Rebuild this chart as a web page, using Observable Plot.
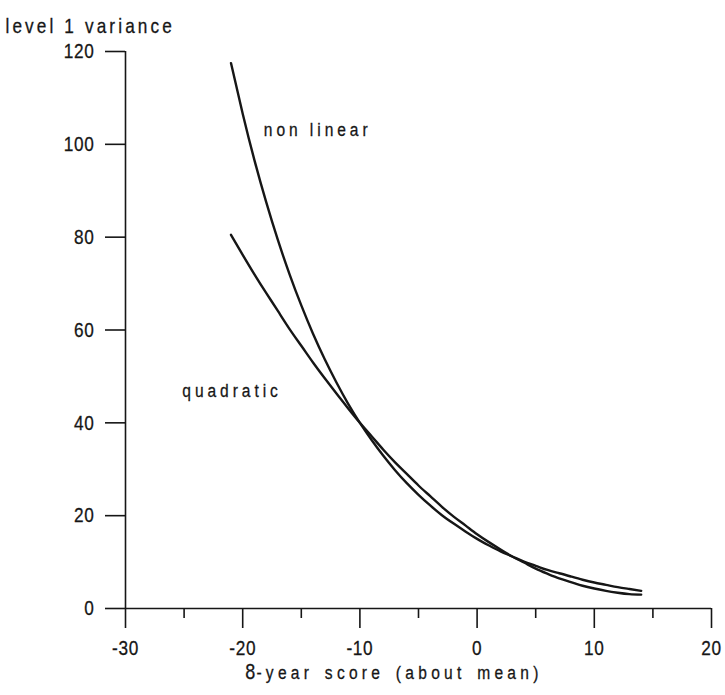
<!DOCTYPE html>
<html>
<head>
<meta charset="utf-8">
<script src="https://cdn.jsdelivr.net/npm/d3@7"></script>
<script src="https://cdn.jsdelivr.net/npm/@observablehq/plot@0.6"></script>
<style>
  html, body { margin: 0; padding: 0; background: #fff; }
  #chart svg { display: block; }
  #chart svg g[aria-label$="tick label"] text { font-size: 21px; letter-spacing: 0.8px; }
  #chart svg text { stroke: #161616; stroke-width: 0.3px; }
</style>
</head>
<body>
<div id="chart"></div>
<script>
// Scores (about mean) at which the curves were read
const scores = [-21,-20,-19,-18,-17,-16,-15,-14,-13,-12,-11,-10,-9,-8,-7,-6,-5,-4,-3,-2,-1,0,1,2,3,4,5,6,7,8,9,10,11,12,13,14];
// Level 1 variance, non linear model
const nonLinear = [117.5,106.6,96.6,87.6,79.4,72.0,65.3,59.2,53.7,48.7,44.1,40.0,36.3,32.9,29.8,27.0,24.5,22.2,20.1,18.3,16.6,15.0,13.6,12.3,11.2,10.1,9.2,8.3,7.6,6.9,6.2,5.6,5.1,4.6,4.2,3.8];
// Level 1 variance, quadratic model
const quadratic = [80.5,76.2,72.0,68.0,64.1,60.2,56.6,53.0,49.6,46.3,43.1,40.0,37.1,34.2,31.5,29.0,26.5,24.2,21.9,19.8,17.9,16.0,14.3,12.7,11.2,9.9,8.6,7.5,6.5,5.7,4.9,4.3,3.8,3.4,3.1,3.0];

const xMajorTicks = [-30,-20,-10,0,10,20];
const xMinorTicks = [-25,-15,-5,5,15];
const yTicks = [0,20,40,60,80,100,120];

const curveLabels = [
  {x: -18.2, y: 103.2, text: "non linear"},
  {x: -25.15, y: 46.8, text: "quadratic"}
];
const xTitle = "8-year score (about mean)";
const yTitle = "level 1 variance";

const nlData = scores.map((s, i) => ({x: s, y: nonLinear[i]}));
const qData = scores.map((s, i) => ({x: s, y: quadratic[i]}));

const ink = "#161616";
const font = "'Liberation Sans', Arial, sans-serif";
const fmt = d => String(d); // plain hyphen minus, as in the original

const chart = Plot.plot({
  width: 725,
  height: 695,
  marginLeft: 125,
  marginRight: 14,
  marginTop: 51,
  marginBottom: 87,
  style: {fontFamily: font, fontSize: "16px", color: ink, background: "#fff"},
  x: {domain: [-30, 20]},
  y: {domain: [0, 120]},
  marks: [
    Plot.ruleX([-30], {y1: 0, y2: 120, stroke: ink, strokeWidth: 1.6}),
    Plot.ruleY([0], {x1: -30, x2: 20, stroke: ink, strokeWidth: 1.6}),
    Plot.axisY(yTicks, {tickSize: 20, tickPadding: 11, tickFormat: fmt, label: null, stroke: ink, strokeWidth: 1.6, fill: ink}),
    Plot.axisX(xMajorTicks, {tickSize: 20, tickPadding: 12, tickFormat: fmt, label: null, stroke: ink, strokeWidth: 1.6, fill: ink}),
    Plot.axisX(xMinorTicks, {tickSize: 10, tickFormat: () => "", label: null, stroke: ink, strokeWidth: 1.6}),
    Plot.line(nlData, {x: "x", y: "y", curve: "natural", stroke: ink, strokeWidth: 2.4}),
    Plot.line(qData, {x: "x", y: "y", curve: "natural", stroke: ink, strokeWidth: 2.4}),
    Plot.text(curveLabels, {x: "x", y: "y", text: "text", textAnchor: "start", fontSize: 19, fill: ink, className: "curve-label"}),
    Plot.text([xTitle], {x: [-7.1], frameAnchor: "bottom", dy: 70, fontSize: 19, fill: ink, className: "x-title"}),
    Plot.text([yTitle], {frameAnchor: "top-left", dx: -120, dy: -33, textAnchor: "start", fontSize: 21, fill: ink, className: "y-title"})
  ]
});

const svg = d3.select(chart);
svg.selectAll(".curve-label text").style("letter-spacing", "4.8px");
svg.selectAll(".x-title text").style("letter-spacing", "5.2px").style("word-spacing", "3.7px");
svg.selectAll(".y-title text").style("letter-spacing", "3.8px").style("word-spacing", "0px");
// larger leading "8" in the x title
svg.selectAll(".x-title text").each(function() {
  const t = d3.select(this);
  const s = t.text();
  t.text(null);
  t.append("tspan").attr("font-size", 22).style("letter-spacing", "1.5px").text(s.slice(0, 1));
  t.append("tspan").text(s.slice(1));
});

// narrow (condensed) letterforms, as in the original typeface
const K = 0.82;
svg.selectAll("text").each(function() {
  if (!this.textContent) return;
  const tr = this.getAttribute("transform") || "";
  this.setAttribute("transform", `${tr} scale(${K},1)`.trim());
});

document.getElementById("chart").appendChild(chart);
</script>
</body>
</html>
